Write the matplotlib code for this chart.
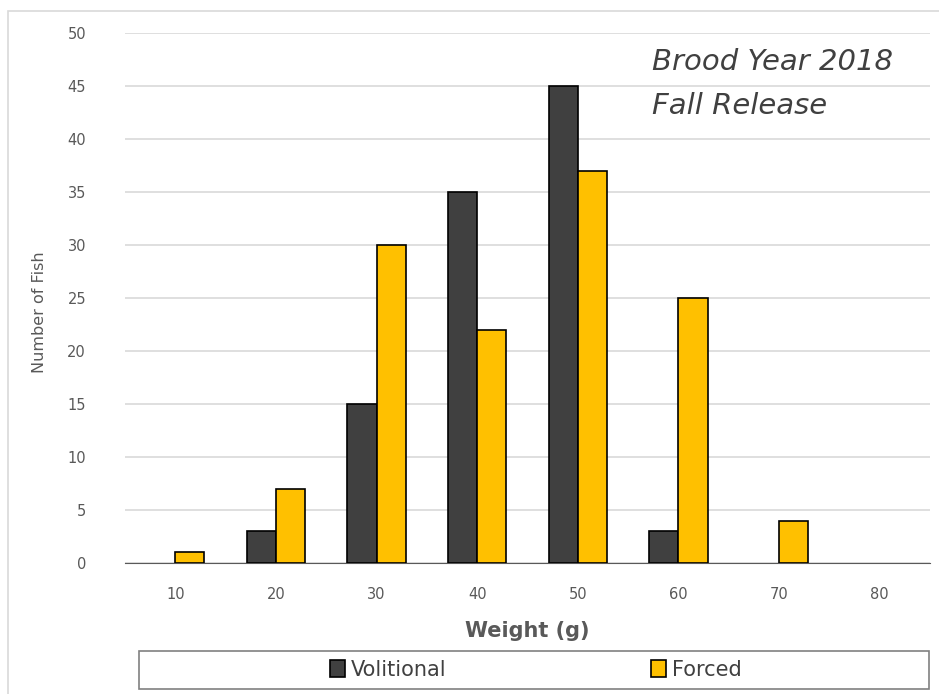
import numpy as np
import matplotlib.pyplot as plt
from matplotlib.patches import Rectangle

# weight classes (g) and fish counts per release type
weights = ["10", "20", "30", "40", "50", "60", "70", "80"]
volitional = [0, 3, 15, 35, 45, 3, 0, 0]
forced = [1, 7, 30, 22, 37, 25, 4, 0]

dark = "#404040"
gold = "#FFC000"
text_gray = "#595959"

fig = plt.figure(figsize=(9.39, 6.94), dpi=100)
ax = fig.add_axes([125 / 939, 1 - 563 / 694, 805 / 939, 530 / 694])

# outer chart frame
fig.patches.append(Rectangle((8 / 939, -0.1), 1.2, 1 - 11 / 694 + 0.1,
                             transform=fig.transFigure, fill=False,
                             edgecolor="#D9D9D9", linewidth=1.2))

x = np.arange(len(weights))
w = 0.29
# empty classes get no outline
lw_v = [1.2 if v > 0 else 0 for v in volitional]
lw_f = [1.2 if v > 0 else 0 for v in forced]
ax.bar(x - w / 2, volitional, w, color=dark, edgecolor="black", linewidth=lw_v,
       label="Volitional", zorder=3)
ax.bar(x + w / 2, forced, w, color=gold, edgecolor="black", linewidth=lw_f,
       label="Forced", zorder=3)

ax.set_xlim(-0.5, len(weights) - 0.5)
ax.set_ylim(0, 50)
ax.set_yticks(range(0, 51, 5))
ax.set_xticks(x)
ax.set_xticklabels(weights)
ax.grid(axis="y", color="#D9D9D9", linewidth=1.2, zorder=0)
for s in ["top", "right", "left"]:
    ax.spines[s].set_visible(False)
ax.spines["bottom"].set_color("#595959")
ax.tick_params(axis="both", length=0, colors=text_gray, labelsize=10.5)
ax.tick_params(axis="x", pad=17)
ax.tick_params(axis="y", pad=28)

ax.set_xlabel("Weight (g)", fontsize=15, fontweight="bold", color=text_gray,
              labelpad=14)
fig.text(40 / 939, 1 - 312 / 694, "Number of Fish", rotation=90, fontsize=11.5,
         color=text_gray, ha="center", va="center")

fig.text(652 / 939, 1 - 62 / 694, "Brood Year 2018", fontsize=21, style="italic",
         color=dark, ha="left", va="center")
fig.text(652 / 939, 1 - 106 / 694, "Fall Release", fontsize=21, style="italic",
         color=dark, ha="left", va="center")

# legend box along the bottom
fig.patches.append(Rectangle((139 / 939, 1 - 689 / 694), 790 / 939, 38 / 694,
                             transform=fig.transFigure, fill=False,
                             edgecolor="#808080", linewidth=1.2))
leg = fig.legend(loc="center", bbox_to_anchor=(536 / 939, 1 - 670 / 694),
                 ncol=2, frameon=False, fontsize=15, handlelength=0.7,
                 handleheight=0.9, handletextpad=0.3, columnspacing=9.8)
for h in leg.legend_handles:
    h.set_edgecolor("black")
    h.set_linewidth(1.2)
for t in leg.get_texts():
    t.set_color(dark)

plt.savefig("out.png", dpi=100)
